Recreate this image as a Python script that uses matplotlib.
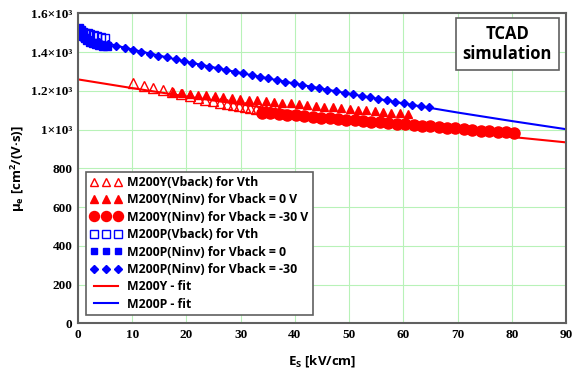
import numpy as np
import matplotlib
matplotlib.use("Agg")
import matplotlib.pyplot as plt

# ---- data ----
# fit curves
x_fit = [0, 10, 20, 30, 40, 50, 60, 70, 80, 90]
y_fit_Y = [1259, 1214, 1171, 1130, 1091, 1055, 1021, 990, 962, 934]
y_fit_P = [1482, 1413, 1350, 1292, 1237, 1185, 1135, 1088, 1044, 1002]

# M200Y(Vback) for Vth  (open triangles)
x_Y_vth = [10.2, 12.1, 13.9, 15.7, 17.4, 19.0, 20.6, 22.1, 23.5, 24.9, 26.2,
           27.4, 28.6, 29.7, 30.8, 31.8, 32.8, 33.7, 34.6, 35.5, 36.3, 37.1]
y_Y_vth = [1240, 1226, 1214, 1204, 1192, 1182, 1172, 1162, 1154, 1146, 1139,
           1133, 1127, 1122, 1117, 1112, 1108, 1104, 1100, 1096, 1093, 1090]

# M200Y(Ninv) for Vback = 0 V  (filled triangles)
x_Y_0 = [17.5, 19.1, 20.6, 22.2, 23.7, 25.3, 26.8, 28.4, 29.9, 31.5, 33.0,
         34.6, 36.1, 37.7, 39.2, 40.8, 42.3, 43.9, 45.4, 47.0, 48.5, 50.1,
         51.6, 53.2, 54.7, 56.3, 57.8, 59.4, 60.9]
y_Y_0 = [1195, 1190, 1186, 1181, 1177, 1172, 1168, 1163, 1159, 1155, 1151,
         1147, 1143, 1139, 1135, 1131, 1127, 1123, 1119, 1115, 1111, 1107,
         1103, 1099, 1096, 1092, 1088, 1084, 1080]

# M200Y(Ninv) for Vback = -30 V  (filled circles)
x_Y_30 = [34.0, 35.5, 37.1, 38.6, 40.2, 41.7, 43.3, 44.8, 46.4, 47.9, 49.5,
          51.0, 52.6, 54.1, 55.7, 57.2, 58.8, 60.3, 61.9, 63.4, 65.0, 66.5,
          68.1, 69.6, 71.2, 72.7, 74.3, 75.8, 77.4, 78.9, 80.5]
y_Y_30 = [1088, 1084, 1080, 1077, 1073, 1069, 1066, 1062, 1058, 1055, 1051,
          1048, 1044, 1041, 1037, 1034, 1030, 1027, 1023, 1020, 1016, 1013,
          1009, 1006, 1002, 999, 995, 992, 988, 985, 981]

# M200P(Vback) for Vth  (open squares)
x_P_vth = [0.2, 0.5, 0.9, 1.3, 1.8, 2.3, 2.9, 3.5, 4.2, 4.9]
y_P_vth = [1520, 1512, 1505, 1500, 1497, 1495, 1490, 1485, 1480, 1475]

# M200P(Ninv) for Vback = 0  (filled squares)
x_P_0 = [0.1, 0.3, 0.6, 0.9, 1.3, 1.7, 2.2, 2.7, 3.3, 3.9, 4.6, 5.3]
y_P_0 = [1525, 1510, 1495, 1485, 1472, 1462, 1452, 1446, 1440, 1436, 1432, 1430]

# M200P(Ninv) for Vback = -30  (diamonds)
x_P_30 = [0.8, 2.4, 3.9, 5.5, 7.0, 8.6, 10.2, 11.7, 13.3, 14.8, 16.4, 18.0,
          19.5, 21.1, 22.6, 24.2, 25.8, 27.3, 28.9, 30.4, 32.0, 33.6, 35.1,
          36.7, 38.2, 39.8, 41.4, 42.9, 44.5, 46.0, 47.6, 49.2, 50.7, 52.3,
          53.8, 55.4, 57.0, 58.5, 60.1, 61.6, 63.2, 64.8]
y_P_30 = [1475, 1463, 1454, 1444, 1433, 1422, 1411, 1402, 1391, 1382, 1372,
          1362, 1353, 1343, 1334, 1325, 1316, 1307, 1299, 1290, 1281, 1272,
          1264, 1255, 1247, 1238, 1230, 1222, 1214, 1206, 1198, 1190, 1182,
          1174, 1167, 1159, 1151, 1144, 1136, 1129, 1122, 1115]

x_ticks = [0, 10, 20, 30, 40, 50, 60, 70, 80, 90]
y_ticks = [0, 200, 400, 600, 800, 1000, 1200, 1400, 1600]
y_ticklabels = ["0", "200", "400", "600", "800",
                "1×10³", "1.2×10³", "1.4×10³", "1.6×10³"]

# ---- plot ----
plt.rcParams["mathtext.fontset"] = "custom"
plt.rcParams["mathtext.rm"] = "Open Sans:bold"
plt.rcParams["mathtext.it"] = "Open Sans:bold"
plt.rcParams["mathtext.bf"] = "Open Sans:bold"

RED = "#ff0000"
BLUE = "#0000ff"

fig = plt.figure(figsize=(5.82, 3.8), dpi=100)
ax = fig.add_axes([0.134, 0.149, 0.8385, 0.816])

ax.plot(x_Y_vth, y_Y_vth, ls="none", marker="^", ms=7, mfc="none",
        mec=RED, mew=1.0, label="M200Y(Vback) for Vth")
ax.plot(x_Y_0, y_Y_0, ls="none", marker="^", ms=6, color=RED,
        label="M200Y(Ninv) for Vback = 0 V")
ax.plot(x_Y_30, y_Y_30, ls="none", marker="o", ms=8, color=RED,
        label="M200Y(Ninv) for Vback = -30 V")
ax.plot(x_P_vth, y_P_vth, ls="none", marker="s", ms=6, mfc="none",
        mec=BLUE, mew=1.0, label="M200P(Vback) for Vth")
ax.plot(x_P_0, y_P_0, ls="none", marker="s", ms=5.5, color=BLUE,
        label="M200P(Ninv) for Vback = 0")
ax.plot(x_P_30, y_P_30, ls="none", marker="D", ms=4, color=BLUE,
        label="M200P(Ninv) for Vback = -30")
ax.plot(x_fit, y_fit_Y, color=RED, lw=1.5, label="M200Y - fit")
ax.plot(x_fit, y_fit_P, color=BLUE, lw=1.5, label="M200P - fit")

ax.set_xlim(0, 90)
ax.set_ylim(0, 1600)
ax.set_xticks(x_ticks)
ax.set_yticks(y_ticks)
ax.set_yticklabels(y_ticklabels)
ax.grid(True, color="#b8f2b8", lw=0.8)
ax.set_axisbelow(True)
for sp in ax.spines.values():
    sp.set_color("#606060")
    sp.set_linewidth(1.5)
ax.tick_params(length=0, pad=4)
for lab in ax.get_xticklabels() + ax.get_yticklabels():
    lab.set_fontfamily("Liberation Serif")
    lab.set_fontweight("bold")
    lab.set_fontsize(9.5)

ax.set_xlabel(r"E$_S$ [kV/cm]", fontsize=9.5, fontfamily="Open Sans",
              fontweight="bold", labelpad=9)
ax.set_ylabel(r"$\mu_e$ [cm$^2$/(V·s)]", fontsize=9.5, fontfamily="Open Sans",
              fontweight="bold")
ax.yaxis.set_label_coords(-0.105, 0.5)

leg = ax.legend(loc="lower left", bbox_to_anchor=(0.016, 0.027),
                borderaxespad=0, numpoints=3, markerscale=0.9,
                handlelength=2.6, handletextpad=0.45, labelspacing=0.36,
                borderpad=0.35, fancybox=False, framealpha=1,
                edgecolor="#606060",
                prop={"family": "Open Sans", "weight": "bold", "size": 8.8})
leg.get_frame().set_linewidth(1.2)

ax.text(0.880, 0.901, "TCAD\nsimulation", transform=ax.transAxes,
        ha="center", va="center", fontsize=12, fontfamily="Open Sans",
        fontweight="bold", linespacing=1.1,
        bbox=dict(boxstyle="square,pad=0.42", fc="white", ec="#606060", lw=1.2))

fig.savefig("out.png", dpi=100)
